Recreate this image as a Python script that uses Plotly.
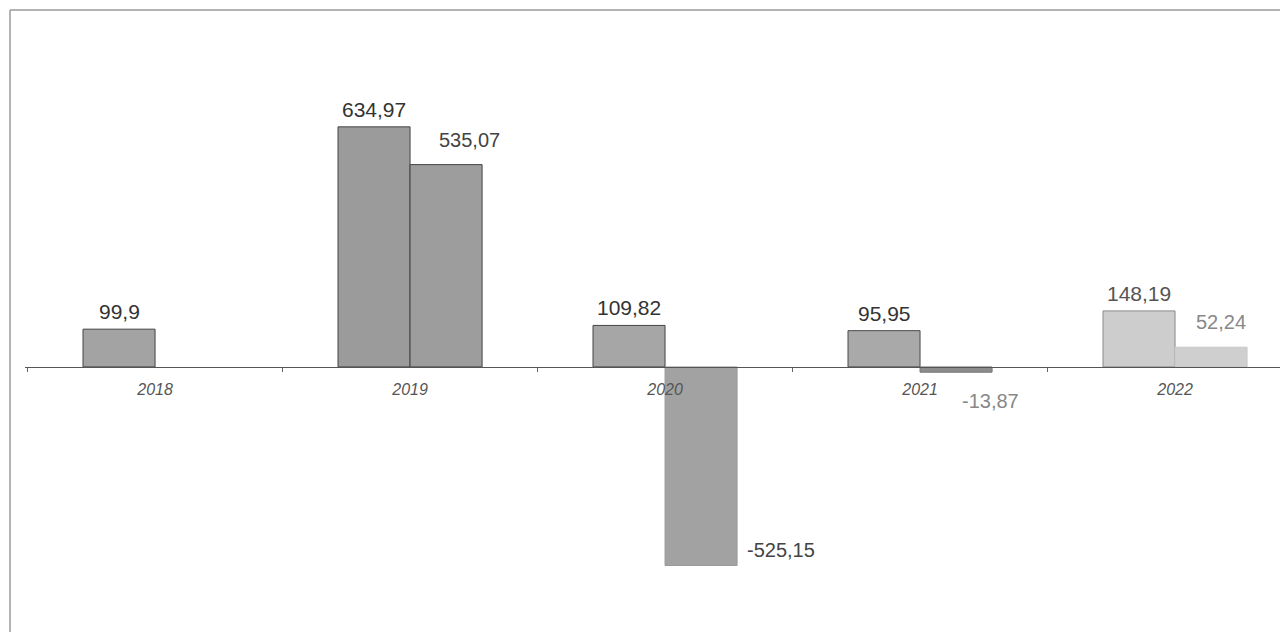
import plotly.graph_objects as go

years = ["2018", "2019", "2020", "2021", "2022"]
series_a = [99.9, 634.97, 109.82, 95.95, 148.19]
series_b = [None, 535.07, -525.15, -13.87, 52.24]
labels_a = ["99,9", "634,97", "109,82", "95,95", "148,19"]
labels_b = ["", "535,07", "-525,15", "-13,87", "52,24"]

colors_a = ["#a3a3a3", "#9b9b9b", "#a6a6a6", "#a9a9a9", "#cdcdcd"]
lines_a = ["#444444", "#444444", "#444444", "#4a4a4a", "#8a8a8a"]
colors_b = ["#a0a0a0", "#9d9d9d", "#a2a2a2", "#8c8c8c", "#cfcfcf"]
lines_b = ["#444444", "#444444", "#9a9a9a", "#777777", "#c8c8c8"]

BARGAP = 0.435
half = (1 - BARGAP) / 4  # offset of each bar centre from the category centre

fig = go.Figure()
fig.add_trace(go.Bar(x=years, y=series_a, marker=dict(color=colors_a, line=dict(color=lines_a, width=1)),
                     showlegend=False, hoverinfo="skip"))
fig.add_trace(go.Bar(x=years, y=series_b, marker=dict(color=colors_b, line=dict(color=lines_b, width=1)),
                     showlegend=False, hoverinfo="skip"))

font = "Arial, 'Liberation Sans', sans-serif"
annotations = []
for i, (v, t) in enumerate(zip(series_a, labels_a)):
    col = "#333333" if i < 4 else "#555555"
    annotations.append(dict(x=i - half, y=v, xref="x", yref="y", text=t, showarrow=False,
                            yanchor="bottom", yshift=4, font=dict(family=font, size=21, color=col)))
b_place = {
    1: dict(xanchor="center", yanchor="bottom", xshift=23, yshift=12, dx=0, color="#444444"),
    2: dict(xanchor="left", yanchor="middle", xshift=8, yshift=16, dx=half, color="#444444"),
    3: dict(xanchor="left", yanchor="top", xshift=4, yshift=-16, dx=0, color="#888888"),
    4: dict(xanchor="center", yanchor="bottom", xshift=10, yshift=12, dx=0, color="#888888"),
}
for i, p in b_place.items():
    annotations.append(dict(x=i + half + p["dx"], y=series_b[i], xref="x", yref="y", text=labels_b[i],
                            showarrow=False, xanchor=p["xanchor"], yanchor=p["yanchor"],
                            xshift=p["xshift"], yshift=p["yshift"],
                            font=dict(family=font, size=20, color=p["color"])))

frame_x = -15 / 1263
shapes = [
    dict(type="line", xref="paper", yref="paper", x0=frame_x, x1=frame_x, y0=0, y1=1,
         line=dict(color="#9a9a9a", width=1.5)),
    dict(type="line", xref="paper", yref="paper", x0=frame_x, x1=1, y0=1, y1=1,
         line=dict(color="#9a9a9a", width=1.5)),
]

zero_pos = (632 - 367) / 622

fig.update_layout(
    width=1280, height=624,
    margin=dict(l=17, r=0, t=2, b=0),
    paper_bgcolor="white", plot_bgcolor="white",
    barmode="group", bargap=BARGAP, bargroupgap=0,
    annotations=annotations, shapes=shapes,
    xaxis=dict(type="category", categoryorder="array", categoryarray=years,
               range=[-0.51, 4.443], anchor="free", position=zero_pos,
               showline=True, linecolor="#555555", linewidth=1,
               ticks="outside", tickson="boundaries", ticklen=4, tickcolor="#666666",
               showgrid=False, zeroline=False, ticklabelstandoff=8,
               tickfont=dict(family=font, size=16, color="#555555", style="italic")),
    yaxis=dict(range=[-701, 944], visible=False, showgrid=False, zeroline=False),
)

fig.write_html("out.html")
